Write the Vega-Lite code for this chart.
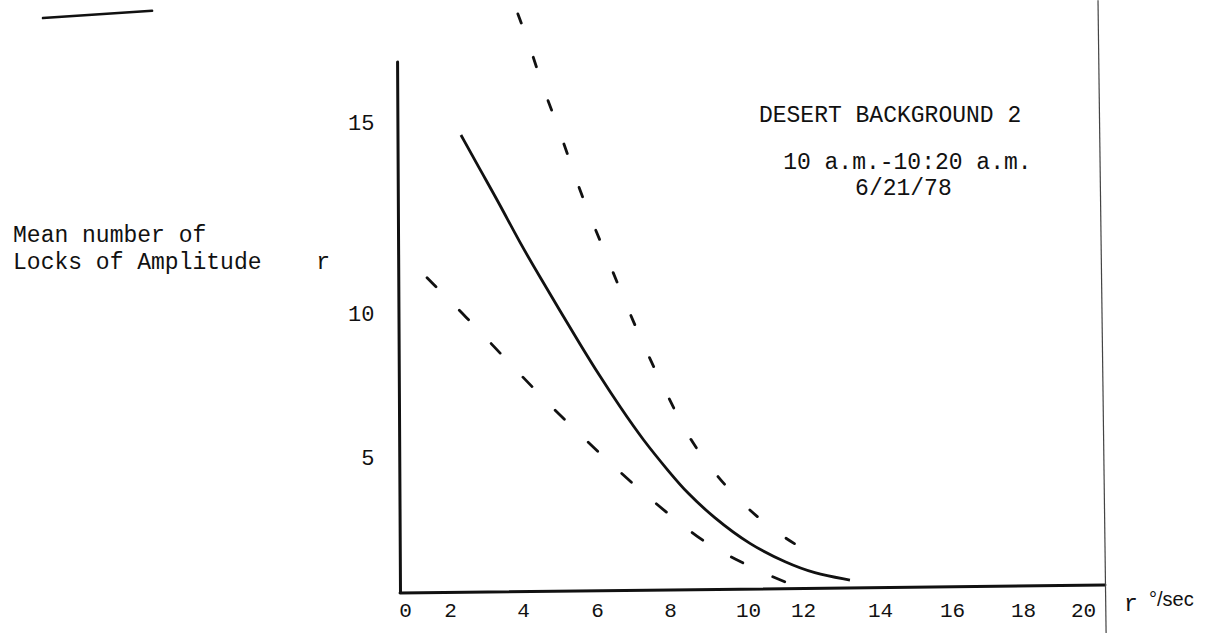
{
  "$schema": "https://vega.github.io/schema/vega-lite/v6.json",
  "width": 705,
  "height": 592,
  "autosize": {"type": "none"},
  "padding": {"left": 400, "top": 0, "right": 127, "bottom": 41},
  "background": "white",
  "config": {"view": {"stroke": null}, "font": "Liberation Mono"},
  "datasets": {
    "axes": [
      {"x": -0.33, "y": 16.57, "x2": -0.2, "y2": 0},
      {"x": -0.22, "y": -0.04, "x2": 20.73, "y2": 0.26}
    ],
    "edges": [
      {"x": 20.5, "y": 18.19, "x2": 20.77, "y2": -1.52}
    ],
    "marks": [
      {"x": -16.09, "y": 17.72, "x2": -11.24, "y2": 17.91}
    ],
    "mean": [
      {"x": 2.3, "y": 14.66}, {"x": 2.88, "y": 13.66}, {"x": 3.37, "y": 12.83},
      {"x": 3.92, "y": 11.83}, {"x": 4.46, "y": 10.94}, {"x": 5.0, "y": 10.06},
      {"x": 5.54, "y": 8.92}, {"x": 6.08, "y": 7.8}, {"x": 6.63, "y": 6.74},
      {"x": 7.26, "y": 5.59}, {"x": 8.0, "y": 4.41}, {"x": 8.44, "y": 3.67},
      {"x": 9.1, "y": 2.78}, {"x": 10.07, "y": 1.74}, {"x": 11.42, "y": 1.07},
      {"x": 12.26, "y": 0.7}, {"x": 13.22, "y": 0.44}
    ],
    "upper": [
      {"x": 3.86, "y": 17.83}, {"x": 4.24, "y": 16.83}, {"x": 4.54, "y": 15.89},
      {"x": 4.95, "y": 14.87}, {"x": 5.35, "y": 13.74}, {"x": 5.68, "y": 12.83},
      {"x": 6.27, "y": 11.47}, {"x": 6.99, "y": 9.69}, {"x": 7.59, "y": 8.02},
      {"x": 8.18, "y": 6.46}, {"x": 8.56, "y": 5.49}, {"x": 9.41, "y": 3.89},
      {"x": 10.51, "y": 2.59}, {"x": 11.82, "y": 1.67}, {"x": 12.49, "y": 1.26}
    ],
    "lower": [
      {"x": 0.98, "y": 10.92}, {"x": 2.47, "y": 9.83}, {"x": 3.42, "y": 8.54},
      {"x": 4.51, "y": 7.08}, {"x": 5.46, "y": 5.87}, {"x": 6.36, "y": 4.78},
      {"x": 7.26, "y": 3.67}, {"x": 8.18, "y": 2.63}, {"x": 8.97, "y": 1.74},
      {"x": 9.87, "y": 1.07}, {"x": 10.73, "y": 0.63}, {"x": 11.71, "y": 0.22}
    ],
    "centerText": [
      {"x": 14.28, "y": 15.18, "label": "DESERT BACKGROUND 2"},
      {"x": 14.76, "y": 13.95, "label": "10 a.m.-10:20 a.m."},
      {"x": 14.65, "y": 13.27, "label": "6/21/78"},
      {"x": -3.64, "y": 11.34, "label": "r"},
      {"x": 21.6, "y": -0.44, "label": "r"}
    ],
    "leftText": [
      {"x": -17.42, "y": 12.04, "label": "Mean number of"},
      {"x": -17.42, "y": 11.34, "label": "Locks of Amplitude"}
    ],
    "handText": [
      {"x": 22.2, "y": -0.3, "label": "°/sec"}
    ]
  },
  "encoding": {
    "x": {
      "field": "x",
      "type": "quantitative",
      "scale": {
        "type": "linear",
        "domain": [0, 2, 4, 6, 8, 10, 12, 14, 16, 18, 20],
        "range": [5, 50, 123, 197, 270, 348, 403, 480, 552, 623, 683],
        "nice": false,
        "zero": false
      },
      "axis": {
        "values": [0, 2, 4, 6, 8, 10, 12, 14, 16, 18, 20],
        "domain": false,
        "ticks": false,
        "grid": false,
        "title": null,
        "labelFont": "Liberation Mono",
        "labelFontSize": 21,
        "labelColor": "#111",
        "labelPadding": 7,
        "labelFlush": false,
        "labelOverlap": false
      }
    },
    "y": {
      "field": "y",
      "type": "quantitative",
      "scale": {
        "type": "linear",
        "domain": [0, 5, 10, 15],
        "range": [592, 457, 313, 122],
        "nice": false,
        "zero": false
      },
      "axis": {
        "values": [5, 10, 15],
        "domain": false,
        "ticks": false,
        "grid": false,
        "title": null,
        "labelFont": "Liberation Mono",
        "labelFontSize": 22,
        "labelColor": "#111",
        "labelPadding": 26,
        "labelOverlap": false
      }
    }
  },
  "layer": [
    {
      "data": {"name": "axes"},
      "mark": {"type": "rule", "color": "#111", "strokeWidth": 3, "strokeCap": "round"},
      "encoding": {"x2": {"field": "x2"}, "y2": {"field": "y2"}}
    },
    {
      "data": {"name": "edges"},
      "mark": {"type": "rule", "color": "#444", "strokeWidth": 1.2},
      "encoding": {"x2": {"field": "x2"}, "y2": {"field": "y2"}}
    },
    {
      "data": {"name": "marks"},
      "mark": {"type": "rule", "color": "#111", "strokeWidth": 2.5, "strokeCap": "round"},
      "encoding": {"x2": {"field": "x2"}, "y2": {"field": "y2"}}
    },
    {
      "data": {"name": "mean"},
      "mark": {"type": "line", "color": "#111", "strokeWidth": 2.8, "interpolate": "basis"},
      "encoding": {}
    },
    {
      "data": {"name": "upper"},
      "mark": {"type": "line", "color": "#111", "strokeWidth": 2.8, "interpolate": "basis", "strokeDash": [10, 36], "strokeCap": "round"},
      "encoding": {}
    },
    {
      "data": {"name": "lower"},
      "mark": {"type": "line", "color": "#111", "strokeWidth": 2.8, "interpolate": "basis", "strokeDash": [13, 33], "strokeCap": "round"},
      "encoding": {}
    },
    {
      "data": {"name": "centerText"},
      "mark": {"type": "text", "font": "Liberation Mono", "fontSize": 23, "color": "#111", "align": "center", "baseline": "middle"},
      "encoding": {"text": {"field": "label"}}
    },
    {
      "data": {"name": "leftText"},
      "mark": {"type": "text", "font": "Liberation Mono", "fontSize": 23, "color": "#111", "align": "left", "baseline": "middle"},
      "encoding": {"text": {"field": "label"}}
    },
    {
      "data": {"name": "handText"},
      "mark": {"type": "text", "font": "Liberation Sans", "fontSize": 20, "color": "#111", "align": "left", "baseline": "middle"},
      "encoding": {"text": {"field": "label"}}
    }
  ]
}
